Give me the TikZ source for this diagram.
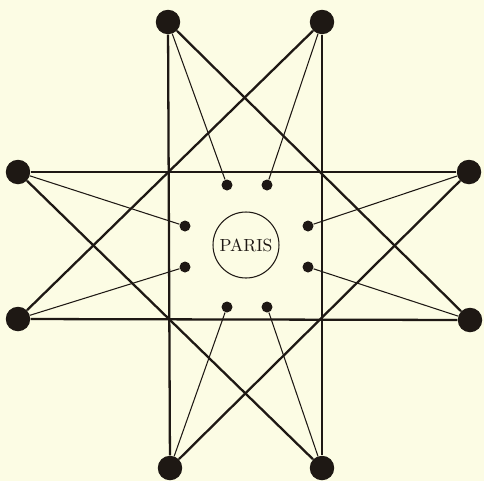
\documentclass[tikz,border=0pt]{standalone}
\usepackage{tikz}
\begin{document}
\begin{tikzpicture}[x=0.02cm, y=-0.02cm,
  bigdot/.style={circle, fill=ink, inner sep=0pt, minimum size=0.49cm},
  smalldot/.style={circle, fill=ink, inner sep=0pt, minimum size=0.22cm},
  road/.style={draw=ink, line width=1.3pt},
  spur/.style={draw=ink, line width=0.6pt}]
% Define colors
\definecolor{paper}{RGB}{252, 252, 228}
\definecolor{ink}{RGB}{30, 24, 20}

% Background
\fill[paper] (0, 0) rectangle (484, 481);

% Outer stations
\node[bigdot] (ntl) at (168, 22) {};
\node[bigdot] (ntr) at (322, 22) {};
\node[bigdot] (wtp) at (18, 172) {};
\node[bigdot] (wbt) at (18, 319) {};
\node[bigdot] (etp) at (469, 172) {};
\node[bigdot] (ebt) at (470, 320) {};
\node[bigdot] (sbl) at (170, 468) {};
\node[bigdot] (sbr) at (322, 468) {};

% Inner stations
\node[smalldot] (itl) at (227, 185) {};
\node[smalldot] (itr) at (267, 185) {};
\node[smalldot] (ilt) at (185, 226) {};
\node[smalldot] (ilb) at (185, 267) {};
\node[smalldot] (irt) at (308, 226) {};
\node[smalldot] (irb) at (308, 267) {};
\node[smalldot] (ibl) at (227, 307) {};
\node[smalldot] (ibr) at (267, 307) {};

% Paris
\node[circle, draw=ink, line width=0.6pt, minimum size=1.32cm, inner sep=0pt, text=ink] (paris) at (246, 245) {PARIS};

% Square
\draw[road] (ntl) -- (sbl);
\draw[road] (ntr) -- (sbr);
\draw[road] (wtp) -- (etp);
\draw[road] (wbt) -- (ebt);

% Star diagonals
\draw[road] (ntl) -- (ebt);
\draw[road] (ntr) -- (wbt);
\draw[road] (wtp) -- (sbr);
\draw[road] (etp) -- (sbl);

% Spurs to the inner stations
\draw[spur] (ntl) -- (itl);
\draw[spur] (ntr) -- (itr);
\draw[spur] (wtp) -- (ilt);
\draw[spur] (wbt) -- (ilb);
\draw[spur] (etp) -- (irt);
\draw[spur] (ebt) -- (irb);
\draw[spur] (sbl) -- (ibl);
\draw[spur] (sbr) -- (ibr);

\end{tikzpicture}
\end{document}
